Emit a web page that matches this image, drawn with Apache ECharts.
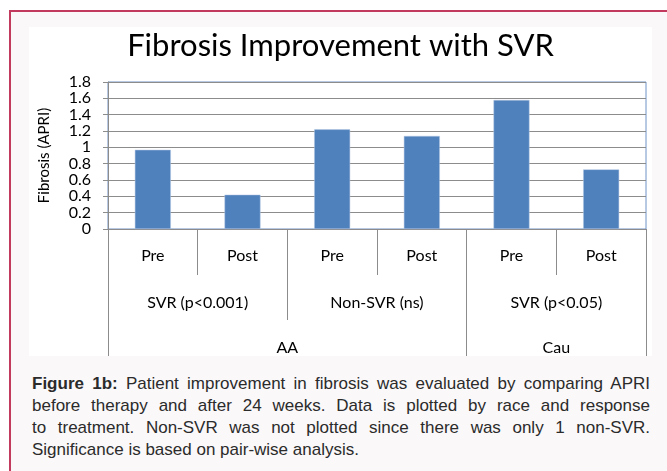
<!DOCTYPE html>
<html>
<head>
<meta charset="utf-8">
<script src="https://cdn.jsdelivr.net/npm/echarts@6/dist/echarts.min.js"></script>
<style>
  body { margin: 0; background: #fff; width: 667px; height: 471px; overflow: hidden; position: relative; }
  .frame { position: absolute; left: 9px; top: 10px; width: 700px; height: 500px;
    border-left: 2px solid #c23a5e; border-top: 2px solid #c23a5e; background: #faf8f9; }
  #chart { position: absolute; left: 29px; top: 27px; width: 623px; height: 329px; background: #fff; }
  .caption { position: absolute; left: 32px; top: 373px; width: 618px;
    font-family: "Liberation Sans", Arial, sans-serif; font-size: 17px; line-height: 22px; color: #2b2b2b; }
  .caption span { display: block; text-align: justify; text-align-last: justify; white-space: normal; }
  .caption span.last { text-align-last: left; }
</style>
</head>
<body>
<div class="frame"></div>
<div id="chart"></div>
<div class="caption">
  <span><b>Figure 1b:</b> Patient improvement in fibrosis was evaluated by comparing APRI</span>
  <span>before therapy and after 24 weeks. Data is plotted by race and response</span>
  <span>to treatment. Non-SVR was not plotted since there was only 1 non-SVR.</span>
  <span class="last">Significance is based on pair-wise analysis.</span>
</div>
<script>
  // data
  var categories = ["Pre", "Post", "Pre", "Post", "Pre", "Post"];
  var values = [0.97, 0.42, 1.22, 1.14, 1.58, 0.73];
  var groupNames = ["SVR (p<0.001)", "Non-SVR (ns)", "SVR (p<0.05)"];
  var groupSpans = [2, 2, 2];
  var raceNames = ["AA", "Cau"];
  var raceSpans = [4, 2];

  // boundaries and centres of the label groups, in category units
  function spanInfo(spans) {
    var bounds = [0], centres = [], pos = 0;
    for (var i = 0; i < spans.length; i++) {
      centres.push(pos + spans[i] / 2);
      pos += spans[i];
      bounds.push(pos);
    }
    return { bounds: bounds, centres: centres };
  }
  var groups = spanInfo(groupSpans);
  var races = spanInfo(raceSpans);

  var font = "Lato";
  var gray = "#8c8c8c";

  var myChart = echarts.init(document.getElementById("chart"));
  var option = {
    animation: false,
    title: {
      text: "Fibrosis Improvement with SVR",
      left: "center",
      top: -2,
      textStyle: { fontFamily: font, fontSize: 31, fontWeight: "normal", color: "#000" },
    },
    grid: {
      left: 79, right: 6, top: 55, bottom: 127,
      show: true, borderColor: "#6f93c6", borderWidth: 1,
    },
    xAxis: [
      {
        type: "category",
        data: categories,
        axisLine: { lineStyle: { color: gray } },
        axisTick: { show: true, interval: 0, length: 46, lineStyle: { color: gray } },
        axisLabel: { interval: 0, margin: 27, verticalAlign: "middle", fontFamily: font, fontSize: 16, color: "#000" },
      },
      {
        type: "value", min: 0, max: 6, position: "bottom",
        axisLine: { show: false }, splitLine: { show: false },
        axisTick: { show: true, customValues: groups.bounds.slice(1, -1), length: 91, lineStyle: { color: gray } },
        axisLabel: {
          customValues: groups.centres, margin: 74, verticalAlign: "middle",
          fontFamily: font, fontSize: 16, color: "#000",
          formatter: function (v) { return groupNames[groups.centres.indexOf(v)] || ""; },
        },
      },
      {
        type: "value", min: 0, max: 6, position: "bottom",
        axisLine: { show: false }, splitLine: { show: false },
        axisTick: { show: true, customValues: races.bounds, length: 127, lineStyle: { color: gray } },
        axisLabel: {
          customValues: races.centres, margin: 119, verticalAlign: "middle",
          fontFamily: font, fontSize: 16, color: "#000",
          formatter: function (v) { return raceNames[races.centres.indexOf(v)] || ""; },
        },
      },
    ],
    yAxis: {
      type: "value",
      min: 0, max: 1.8, interval: 0.2,
      name: "Fibrosis (APRI)",
      nameLocation: "middle",
      nameGap: 56,
      nameTextStyle: { fontFamily: font, fontSize: 15, color: "#000" },
      axisLine: { show: true, lineStyle: { color: gray } },
      axisTick: { show: true, length: 5, lineStyle: { color: gray } },
      axisLabel: { margin: 17, fontFamily: font, fontSize: 16, color: "#000" },
      splitLine: { lineStyle: { color: gray } },
    },
    series: [
      {
        type: "bar",
        data: values,
        barWidth: 36,
        itemStyle: { color: "#4f81bd", borderColor: "#b9cbe4", borderWidth: 0.5 },
      },
    ],
  };
  myChart.setOption(option);
</script>
</body>
</html>
